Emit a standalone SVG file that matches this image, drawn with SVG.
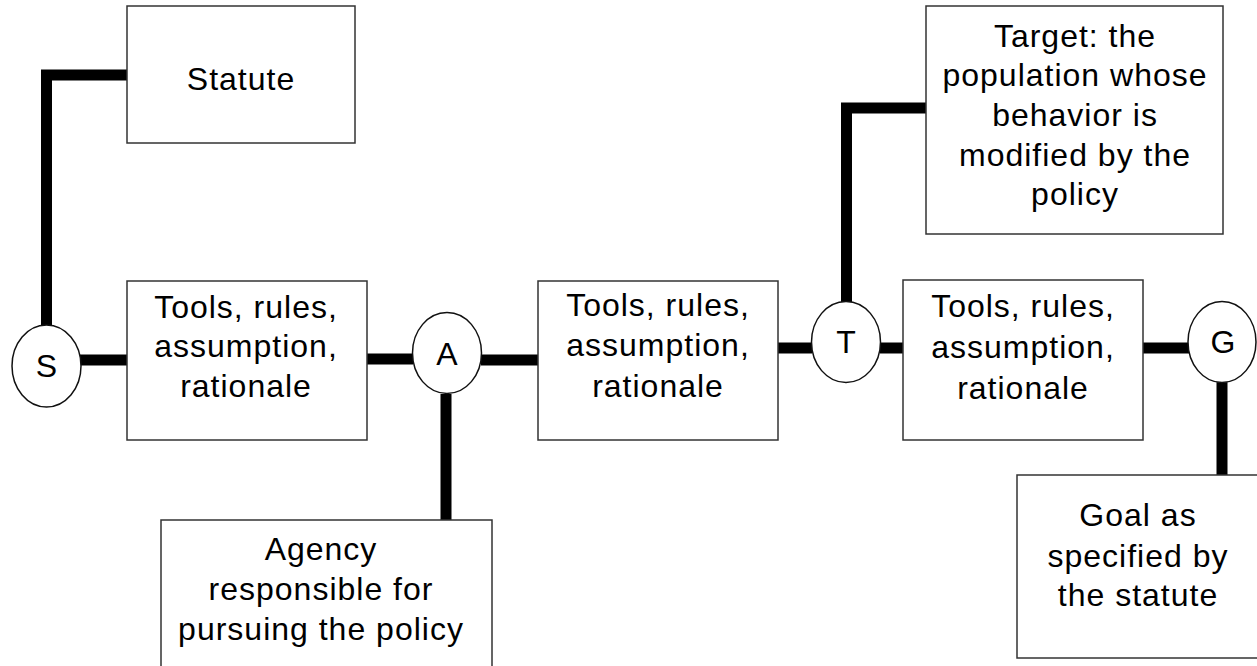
<svg xmlns="http://www.w3.org/2000/svg" width="1257" height="666" viewBox="0 0 1257 666">
<style>
.box{fill:#fff;stroke:#333;stroke-width:1.5}
.circ{fill:#fff;stroke:#111;stroke-width:1.5}
.t{font-family:"Liberation Sans",Arial,sans-serif;font-size:32px;letter-spacing:1px;fill:#000;text-anchor:middle}
.c{fill:none;stroke:#000;stroke-width:11;stroke-linejoin:miter;stroke-linecap:butt}
</style>
<rect width="1257" height="666" fill="#fff"/>
<g id="connectors">
<path class="c" d="M127,75 H46.5 V326"/>
<path class="c" d="M80,360 H127"/>
<path class="c" d="M367,359 H413"/>
<path class="c" d="M481,360 H538"/>
<path class="c" d="M446,394 V520"/>
<path class="c" d="M778,348 H812"/>
<path class="c" d="M880,348 H903"/>
<path class="c" d="M926,108 H846.5 V302"/>
<path class="c" d="M1143,348 H1189"/>
<path class="c" d="M1222,382 V475"/>
</g>
<g id="statute">
<rect class="box" x="127" y="6" width="228" height="137"/>
<text class="t" x="241" y="90">Statute</text>
</g>
<g id="tools1">
<rect class="box" x="127" y="281" width="240" height="159"/>
<text class="t" x="246" y="318">Tools, rules,</text>
<text class="t" x="246" y="357">assumption,</text>
<text class="t" x="246" y="397">rationale</text>
</g>
<g id="tools2">
<rect class="box" x="538" y="281" width="240" height="159"/>
<text class="t" x="658" y="316">Tools, rules,</text>
<text class="t" x="658" y="356">assumption,</text>
<text class="t" x="658" y="397">rationale</text>
</g>
<g id="tools3">
<rect class="box" x="903" y="280" width="240" height="160"/>
<text class="t" x="1023" y="317">Tools, rules,</text>
<text class="t" x="1023" y="358">assumption,</text>
<text class="t" x="1023" y="399">rationale</text>
</g>
<g id="target">
<rect class="box" x="926" y="6" width="297" height="228"/>
<text class="t" x="1075" y="47">Target: the</text>
<text class="t" x="1075" y="86">population whose</text>
<text class="t" x="1075" y="126">behavior is</text>
<text class="t" x="1075" y="166">modified by the</text>
<text class="t" x="1075" y="205">policy</text>
</g>
<g id="agency">
<rect class="box" x="161" y="520" width="331" height="160"/>
<text class="t" x="321" y="560">Agency</text>
<text class="t" x="321" y="600">responsible for</text>
<text class="t" x="321" y="640">pursuing the policy</text>
</g>
<g id="goal">
<rect class="box" x="1017" y="475" width="245" height="183"/>
<text class="t" x="1138" y="526">Goal as</text>
<text class="t" x="1138" y="567">specified by</text>
<text class="t" x="1138" y="606">the statute</text>
</g>
<g id="S">
<ellipse class="circ" cx="46.5" cy="366" rx="34.5" ry="41"/>
<text class="t" x="47" y="377">S</text>
</g>
<g id="A">
<ellipse class="circ" cx="447" cy="353" rx="34.5" ry="40.5"/>
<text class="t" x="447.5" y="365">A</text>
</g>
<g id="T">
<ellipse class="circ" cx="846" cy="342" rx="34.5" ry="40.5"/>
<text class="t" x="846.5" y="353">T</text>
</g>
<g id="G">
<ellipse class="circ" cx="1222" cy="342" rx="34" ry="40.5"/>
<text class="t" x="1223.5" y="353">G</text>
</g>
</svg>
